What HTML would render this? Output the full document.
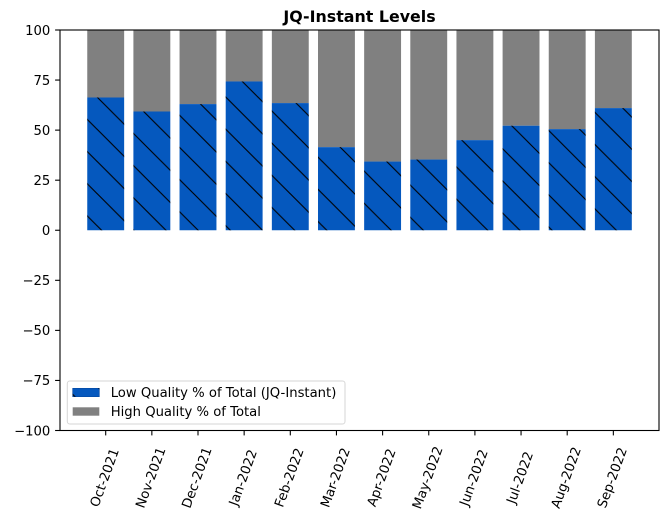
<!DOCTYPE html>
<html>
<head>
<meta charset="utf-8">
<style>
  html, body { margin: 0; padding: 0; background: #ffffff; }
  svg { display: block; }
  text { font-family: "DejaVu Sans", "Liberation Sans", sans-serif; fill: #000; }
</style>
</head>
<body>
<svg width="669" height="522" viewBox="0 0 669 522" xmlns="http://www.w3.org/2000/svg">
  <defs>
    <pattern id="hatch" patternUnits="userSpaceOnUse" x="0" y="0" width="32.17" height="32.17">
      <line x1="-2" y1="-2" x2="34.17" y2="34.17" stroke="#000" stroke-width="1.1"/>
      <line x1="30.17" y1="-2" x2="34.17" y2="2" stroke="#000" stroke-width="1.1"/>
      <line x1="-2" y1="30.17" x2="2" y2="34.17" stroke="#000" stroke-width="1.1"/>
    </pattern>
  </defs>
  <rect x="0" y="0" width="669" height="522" fill="#fff"/>

  <!-- title -->
  <text x="359.5" y="22" font-size="15.85" font-weight="bold" text-anchor="middle">JQ-Instant Levels</text>

  <!-- bars -->
  <g>
    <!-- gray top parts -->
    <g fill="#808080">
      <rect x="87.25" y="30" width="36.9" height="67.48"/>
      <rect x="133.4" y="30" width="36.9" height="81.5"/>
      <rect x="179.55" y="30" width="36.9" height="74.09"/>
      <rect x="225.7" y="30" width="36.9" height="51.46"/>
      <rect x="271.85" y="30" width="36.9" height="73.09"/>
      <rect x="318" y="30" width="36.9" height="117.15"/>
      <rect x="364.15" y="30" width="36.9" height="131.56"/>
      <rect x="410.3" y="30" width="36.9" height="129.56"/>
      <rect x="456.45" y="30" width="36.9" height="110.14"/>
      <rect x="502.6" y="30" width="36.9" height="95.72"/>
      <rect x="548.75" y="30" width="36.9" height="99.12"/>
      <rect x="594.9" y="30" width="36.9" height="78.1"/>
    </g>
    <!-- blue bottom parts -->
    <g fill="#0558BE">
      <rect x="87.25" y="97.48" width="36.9" height="132.77"/>
      <rect x="133.4" y="111.5" width="36.9" height="118.75"/>
      <rect x="179.55" y="104.09" width="36.9" height="126.16"/>
      <rect x="225.7" y="81.46" width="36.9" height="148.79"/>
      <rect x="271.85" y="103.09" width="36.9" height="127.16"/>
      <rect x="318" y="147.15" width="36.9" height="83.1"/>
      <rect x="364.15" y="161.56" width="36.9" height="68.69"/>
      <rect x="410.3" y="159.56" width="36.9" height="70.69"/>
      <rect x="456.45" y="140.14" width="36.9" height="90.11"/>
      <rect x="502.6" y="125.72" width="36.9" height="104.53"/>
      <rect x="548.75" y="129.12" width="36.9" height="101.13"/>
      <rect x="594.9" y="108.1" width="36.9" height="122.15"/>
    </g>
    <g fill="url(#hatch)">
      <rect x="87.25" y="97.48" width="36.9" height="132.77"/>
      <rect x="133.4" y="111.5" width="36.9" height="118.75"/>
      <rect x="179.55" y="104.09" width="36.9" height="126.16"/>
      <rect x="225.7" y="81.46" width="36.9" height="148.79"/>
      <rect x="271.85" y="103.09" width="36.9" height="127.16"/>
      <rect x="318" y="147.15" width="36.9" height="83.1"/>
      <rect x="364.15" y="161.56" width="36.9" height="68.69"/>
      <rect x="410.3" y="159.56" width="36.9" height="70.69"/>
      <rect x="456.45" y="140.14" width="36.9" height="90.11"/>
      <rect x="502.6" y="125.72" width="36.9" height="104.53"/>
      <rect x="548.75" y="129.12" width="36.9" height="101.13"/>
      <rect x="594.9" y="108.1" width="36.9" height="122.15"/>
    </g>
  </g>

  <!-- axes frame -->
  <rect x="60" y="30" width="599" height="400.5" fill="none" stroke="#000" stroke-width="1.1"/>

  <!-- y ticks -->
  <g stroke="#000" stroke-width="1.1">
    <line x1="55.1" y1="30" x2="60" y2="30"/>
    <line x1="55.1" y1="80.06" x2="60" y2="80.06"/>
    <line x1="55.1" y1="130.13" x2="60" y2="130.13"/>
    <line x1="55.1" y1="180.19" x2="60" y2="180.19"/>
    <line x1="55.1" y1="230.25" x2="60" y2="230.25"/>
    <line x1="55.1" y1="280.31" x2="60" y2="280.31"/>
    <line x1="55.1" y1="330.38" x2="60" y2="330.38"/>
    <line x1="55.1" y1="380.44" x2="60" y2="380.44"/>
    <line x1="55.1" y1="430.5" x2="60" y2="430.5"/>
  </g>
  <g font-size="13.2" text-anchor="end">
    <text x="50.3" y="34.8">100</text>
    <text x="50.3" y="84.86">75</text>
    <text x="50.3" y="134.93">50</text>
    <text x="50.3" y="184.99">25</text>
    <text x="50.3" y="235.05">0</text>
    <text x="50.3" y="285.11">−25</text>
    <text x="50.3" y="335.18">−50</text>
    <text x="50.3" y="385.24">−75</text>
    <text x="50.3" y="435.3">−100</text>
  </g>

  <!-- x ticks -->
  <g stroke="#000" stroke-width="1.1">
    <line x1="105.7" y1="430.5" x2="105.7" y2="435.4"/>
    <line x1="151.85" y1="430.5" x2="151.85" y2="435.4"/>
    <line x1="198" y1="430.5" x2="198" y2="435.4"/>
    <line x1="244.15" y1="430.5" x2="244.15" y2="435.4"/>
    <line x1="290.3" y1="430.5" x2="290.3" y2="435.4"/>
    <line x1="336.45" y1="430.5" x2="336.45" y2="435.4"/>
    <line x1="382.6" y1="430.5" x2="382.6" y2="435.4"/>
    <line x1="428.75" y1="430.5" x2="428.75" y2="435.4"/>
    <line x1="474.9" y1="430.5" x2="474.9" y2="435.4"/>
    <line x1="521.05" y1="430.5" x2="521.05" y2="435.4"/>
    <line x1="567.2" y1="430.5" x2="567.2" y2="435.4"/>
    <line x1="613.35" y1="430.5" x2="613.35" y2="435.4"/>
  </g>
  <g font-size="13.2" text-anchor="middle">
    <text transform="translate(104.2,477.5) rotate(-70)" dy="0.36em">Oct-2021</text>
    <text transform="translate(150.35,477.5) rotate(-70)" dy="0.36em">Nov-2021</text>
    <text transform="translate(196.5,477.5) rotate(-70)" dy="0.36em">Dec-2021</text>
    <text transform="translate(242.65,477.5) rotate(-70)" dy="0.36em">Jan-2022</text>
    <text transform="translate(288.8,477.5) rotate(-70)" dy="0.36em">Feb-2022</text>
    <text transform="translate(334.95,477.5) rotate(-70)" dy="0.36em">Mar-2022</text>
    <text transform="translate(381.1,477.5) rotate(-70)" dy="0.36em">Apr-2022</text>
    <text transform="translate(427.25,477.5) rotate(-70)" dy="0.36em">May-2022</text>
    <text transform="translate(473.4,477.5) rotate(-70)" dy="0.36em">Jun-2022</text>
    <text transform="translate(519.55,477.5) rotate(-70)" dy="0.36em">Jul-2022</text>
    <text transform="translate(565.7,477.5) rotate(-70)" dy="0.36em">Aug-2022</text>
    <text transform="translate(611.85,477.5) rotate(-70)" dy="0.36em">Sep-2022</text>
  </g>

  <!-- legend -->
  <rect x="67.3" y="381" width="277.7" height="43" rx="2.5" ry="2.5" fill="#fff" fill-opacity="0.8" stroke="#d6d6d6" stroke-width="1"/>
  <rect x="72.7" y="388.3" width="26.6" height="8.4" fill="#0558BE" stroke="#0447a0" stroke-width="0.6"/>
  <rect x="72.7" y="388.3" width="26.6" height="8.4" fill="url(#hatch)"/>
  <rect x="72.7" y="407.3" width="26.6" height="8.4" fill="#808080"/>
  <g font-size="13.2">
    <text x="110.7" y="397">Low Quality % of Total (JQ-Instant)</text>
    <text x="110.7" y="416">High Quality % of Total</text>
  </g>
</svg>
</body>
</html>
